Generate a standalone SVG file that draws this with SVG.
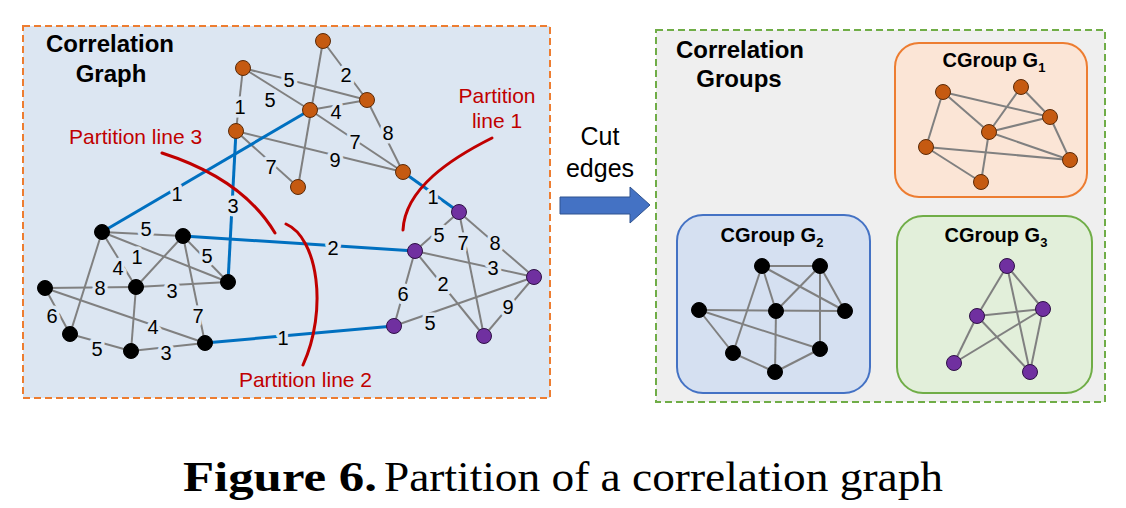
<svg xmlns="http://www.w3.org/2000/svg" width="1126" height="508" viewBox="0 0 1126 508">
<style>
.title{font-family:"Liberation Sans",Arial,sans-serif;font-weight:bold;font-size:24px;fill:#000;text-anchor:middle}
.lbl{font-family:"Liberation Sans",Arial,sans-serif;font-size:20px;fill:#000;text-anchor:middle;stroke:#dce6f2;stroke-width:7px;paint-order:stroke;stroke-linejoin:round}
.red{font-family:"Liberation Sans",Arial,sans-serif;font-size:21px;fill:#c00000}
.grp{font-family:"Liberation Sans",Arial,sans-serif;font-weight:bold;font-size:20px;fill:#000;text-anchor:middle}
.g{stroke:#808080;stroke-width:2;fill:none}
.b{stroke:#0070c0;stroke-width:3;fill:none}
.pl{stroke:#c00000;stroke-width:3;fill:none;stroke-linecap:round}
.no{fill:#c55a11;stroke:#5a2a08;stroke-width:1}
.nk{fill:#000;stroke:#000;stroke-width:1}
.np{fill:#7030a0;stroke:#2e1045;stroke-width:1}
.cap{font-family:"Liberation Serif","Times New Roman",serif;font-size:43px;fill:#000}
</style>

<g id="left-panel">
<rect x="23" y="26" width="527" height="372" fill="#dce6f2" stroke="#ed7d31" stroke-width="2" stroke-dasharray="7,4"/>
<text class="title" x="110" y="52">Correlation</text>
<text class="title" x="111" y="82">Graph</text>
</g>

<g id="right-panel">
<rect x="656" y="30" width="449" height="372" fill="#efefef" stroke="#70ad47" stroke-width="2" stroke-dasharray="7,4"/>
<text class="title" x="740" y="58">Correlation</text>
<text class="title" x="739" y="87">Groups</text>
</g>

<g id="cgroup-g1-box">
<rect x="895" y="43" width="192" height="154" rx="24" fill="#fbe5d6" stroke="#ed7d31" stroke-width="2"/>
<text class="grp" x="994" y="67">CGroup G<tspan font-size="13" dy="5">1</tspan></text>
</g>
<g id="cgroup-g2-box">
<rect x="677" y="215" width="193" height="178" rx="26" fill="#d5e0f1" stroke="#4472c4" stroke-width="2"/>
<text class="grp" x="772" y="242">CGroup G<tspan font-size="13" dy="5">2</tspan></text>
</g>
<g id="cgroup-g3-box">
<rect x="897" y="216" width="195" height="177" rx="26" fill="#e2efda" stroke="#70ad47" stroke-width="2"/>
<text class="grp" x="996" y="242">CGroup G<tspan font-size="13" dy="5">3</tspan></text>
</g>

<g id="connectors">
<!-- orange cluster -->
<line class="g" x1="243" y1="68" x2="367" y2="100"/>
<line class="g" x1="243" y1="68" x2="310" y2="110"/>
<line class="g" x1="243" y1="68" x2="236" y2="131"/>
<line class="g" x1="323" y1="41" x2="298" y2="187"/>
<line class="g" x1="323" y1="41" x2="367" y2="100"/>
<line class="g" x1="310" y1="110" x2="367" y2="100"/>
<line class="g" x1="367" y1="100" x2="403" y2="172"/>
<line class="g" x1="310" y1="110" x2="403" y2="172"/>
<line class="g" x1="236" y1="131" x2="403" y2="172"/>
<line class="g" x1="236" y1="131" x2="298" y2="187"/>
<!-- black cluster -->
<line class="g" x1="102" y1="232" x2="183" y2="236"/>
<line class="g" x1="102" y1="232" x2="228" y2="282"/>
<line class="g" x1="102" y1="232" x2="136" y2="287"/>
<line class="g" x1="102" y1="232" x2="70" y2="334"/>
<line class="g" x1="183" y1="236" x2="228" y2="282"/>
<line class="g" x1="183" y1="236" x2="136" y2="287"/>
<line class="g" x1="183" y1="236" x2="205" y2="343"/>
<line class="g" x1="45" y1="288" x2="136" y2="287"/>
<line class="g" x1="136" y1="287" x2="228" y2="282"/>
<line class="g" x1="45" y1="288" x2="70" y2="334"/>
<line class="g" x1="45" y1="288" x2="205" y2="343"/>
<line class="g" x1="70" y1="334" x2="131" y2="351"/>
<line class="g" x1="131" y1="351" x2="205" y2="343"/>
<line class="g" x1="136" y1="287" x2="131" y2="351"/>
<!-- purple cluster -->
<line class="g" x1="415" y1="251" x2="459" y2="212"/>
<line class="g" x1="459" y1="212" x2="484" y2="336"/>
<line class="g" x1="459" y1="212" x2="534" y2="277"/>
<line class="g" x1="415" y1="251" x2="534" y2="277"/>
<line class="g" x1="415" y1="251" x2="484" y2="336"/>
<line class="g" x1="415" y1="251" x2="394" y2="326"/>
<line class="g" x1="394" y1="326" x2="534" y2="277"/>
<line class="g" x1="484" y1="336" x2="534" y2="277"/>
<!-- cut (blue) edges -->
<line class="b" x1="310" y1="110" x2="102" y2="232"/>
<line class="b" x1="236" y1="131" x2="228" y2="282"/>
<line class="b" x1="183" y1="236" x2="415" y2="251"/>
<line class="b" x1="205" y1="343" x2="394" y2="326"/>
<line class="b" x1="403" y1="172" x2="459" y2="212"/>

<!-- edge weights -->
<text class="lbl" x="289" y="87">5</text>
<text class="lbl" x="270" y="107">5</text>
<text class="lbl" x="240" y="114">1</text>
<text class="lbl" x="346" y="82">2</text>
<text class="lbl" x="336" y="119">4</text>
<text class="lbl" x="388" y="140">8</text>
<text class="lbl" x="355" y="149">7</text>
<text class="lbl" x="335" y="167">9</text>
<text class="lbl" x="271" y="174">7</text>
<text class="lbl" x="177" y="201">1</text>
<text class="lbl" x="233" y="213">3</text>
<text class="lbl" x="333" y="255">2</text>
<text class="lbl" x="283" y="345">1</text>
<text class="lbl" x="433" y="204">1</text>
<text class="lbl" x="146" y="236">5</text>
<text class="lbl" x="137" y="264">1</text>
<text class="lbl" x="118" y="275">4</text>
<text class="lbl" x="207" y="263">5</text>
<text class="lbl" x="198" y="323">7</text>
<text class="lbl" x="100" y="295">8</text>
<text class="lbl" x="172" y="298">3</text>
<text class="lbl" x="52" y="323">6</text>
<text class="lbl" x="153" y="334">4</text>
<text class="lbl" x="97" y="356">5</text>
<text class="lbl" x="166" y="360">3</text>
<text class="lbl" x="439" y="242">5</text>
<text class="lbl" x="463" y="250">7</text>
<text class="lbl" x="495" y="250">8</text>
<text class="lbl" x="493" y="275">3</text>
<text class="lbl" x="443" y="291">2</text>
<text class="lbl" x="403" y="301">6</text>
<text class="lbl" x="430" y="330">5</text>
<text class="lbl" x="508" y="314">9</text>

<!-- group G1 edges -->
<line class="g" x1="943" y1="92" x2="1050" y2="117"/>
<line class="g" x1="943" y1="92" x2="989" y2="132"/>
<line class="g" x1="943" y1="92" x2="926" y2="147"/>
<line class="g" x1="1021" y1="87" x2="1050" y2="117"/>
<line class="g" x1="1021" y1="87" x2="989" y2="132"/>
<line class="g" x1="989" y1="132" x2="1050" y2="117"/>
<line class="g" x1="1050" y1="117" x2="1070" y2="160"/>
<line class="g" x1="926" y1="147" x2="1070" y2="160"/>
<line class="g" x1="926" y1="147" x2="981" y2="182"/>
<line class="g" x1="989" y1="132" x2="981" y2="182"/>
<line class="g" x1="989" y1="132" x2="1070" y2="160"/>
<!-- group G2 edges -->
<line class="g" x1="762" y1="266" x2="820" y2="266"/>
<line class="g" x1="762" y1="266" x2="776" y2="311"/>
<line class="g" x1="762" y1="266" x2="845" y2="311"/>
<line class="g" x1="762" y1="266" x2="733" y2="353"/>
<line class="g" x1="820" y1="266" x2="776" y2="311"/>
<line class="g" x1="820" y1="266" x2="845" y2="311"/>
<line class="g" x1="820" y1="266" x2="820" y2="349"/>
<line class="g" x1="699" y1="310" x2="845" y2="311"/>
<line class="g" x1="699" y1="310" x2="733" y2="353"/>
<line class="g" x1="699" y1="310" x2="820" y2="349"/>
<line class="g" x1="776" y1="311" x2="775" y2="372"/>
<line class="g" x1="733" y1="353" x2="775" y2="372"/>
<line class="g" x1="775" y1="372" x2="820" y2="349"/>
<!-- group G3 edges -->
<line class="g" x1="1007" y1="266" x2="977" y2="316"/>
<line class="g" x1="1007" y1="266" x2="1043" y2="309"/>
<line class="g" x1="1007" y1="266" x2="1030" y2="372"/>
<line class="g" x1="977" y1="316" x2="1043" y2="309"/>
<line class="g" x1="977" y1="316" x2="954" y2="363"/>
<line class="g" x1="977" y1="316" x2="1030" y2="372"/>
<line class="g" x1="1043" y1="309" x2="954" y2="363"/>
<line class="g" x1="1043" y1="309" x2="1030" y2="372"/>
</g>

<g id="partition-lines">
<path class="pl" d="M162,153 Q243,179 275,233"/>
<path class="pl" d="M286,224 C318,238 328,310 303,365"/>
<path class="pl" d="M492,138 C452,158 405,188 403,230"/>
<text class="red" x="69" y="144">Partition line 3</text>
<text class="red" x="497" y="103" text-anchor="middle">Partition</text>
<text class="red" x="497" y="128" text-anchor="middle">line 1</text>
<text class="red" x="372" y="387" text-anchor="end">Partition line 2</text>
</g>

<g id="nodes-orange">
<circle class="no" cx="243" cy="68" r="7.5"/>
<circle class="no" cx="323" cy="41" r="7.5"/>
<circle class="no" cx="367" cy="100" r="7.5"/>
<circle class="no" cx="310" cy="110" r="7.5"/>
<circle class="no" cx="236" cy="131" r="7.5"/>
<circle class="no" cx="403" cy="172" r="7.5"/>
<circle class="no" cx="298" cy="187" r="7.5"/>
</g>
<g id="nodes-black">
<circle class="nk" cx="102" cy="232" r="7.5"/>
<circle class="nk" cx="183" cy="236" r="7.5"/>
<circle class="nk" cx="228" cy="282" r="7.5"/>
<circle class="nk" cx="136" cy="287" r="7.5"/>
<circle class="nk" cx="45" cy="288" r="7.5"/>
<circle class="nk" cx="70" cy="334" r="7.5"/>
<circle class="nk" cx="131" cy="351" r="7.5"/>
<circle class="nk" cx="205" cy="343" r="7.5"/>
</g>
<g id="nodes-purple">
<circle class="np" cx="459" cy="212" r="7.5"/>
<circle class="np" cx="415" cy="251" r="7.5"/>
<circle class="np" cx="534" cy="277" r="7.5"/>
<circle class="np" cx="394" cy="326" r="7.5"/>
<circle class="np" cx="484" cy="336" r="7.5"/>
</g>

<g id="cut-edges-arrow">
<text x="600" y="145" font-family="Liberation Sans,Arial,sans-serif" font-size="25" text-anchor="middle">Cut</text>
<text x="600" y="177" font-family="Liberation Sans,Arial,sans-serif" font-size="25" text-anchor="middle">edges</text>
<path d="M560,197 H630 V187 L650,205 L630,223 V214 H560 Z" fill="#4472c4" stroke="#2f528f" stroke-width="1"/>
</g>

<g id="cgroup-g1-nodes">
<circle class="no" cx="943" cy="92" r="7.5"/>
<circle class="no" cx="1021" cy="87" r="7.5"/>
<circle class="no" cx="1050" cy="117" r="7.5"/>
<circle class="no" cx="989" cy="132" r="7.5"/>
<circle class="no" cx="926" cy="147" r="7.5"/>
<circle class="no" cx="1070" cy="160" r="7.5"/>
<circle class="no" cx="981" cy="182" r="7.5"/>
</g>

<g id="cgroup-g2-nodes">
<circle class="nk" cx="762" cy="266" r="7.5"/>
<circle class="nk" cx="820" cy="266" r="7.5"/>
<circle class="nk" cx="699" cy="310" r="7.5"/>
<circle class="nk" cx="776" cy="311" r="7.5"/>
<circle class="nk" cx="845" cy="311" r="7.5"/>
<circle class="nk" cx="733" cy="353" r="7.5"/>
<circle class="nk" cx="820" cy="349" r="7.5"/>
<circle class="nk" cx="775" cy="372" r="7.5"/>
</g>

<g id="cgroup-g3-nodes">
<circle class="np" cx="1007" cy="266" r="7.5"/>
<circle class="np" cx="977" cy="316" r="7.5"/>
<circle class="np" cx="1043" cy="309" r="7.5"/>
<circle class="np" cx="954" cy="363" r="7.5"/>
<circle class="np" cx="1030" cy="372" r="7.5"/>
</g>

<g id="caption">
<text class="cap" x="183" y="491" font-weight="bold" textLength="194" lengthAdjust="spacingAndGlyphs">Figure 6.</text>
<text class="cap" x="384" y="491" textLength="559" lengthAdjust="spacingAndGlyphs">Partition of a correlation graph</text>
</g>
</svg>
